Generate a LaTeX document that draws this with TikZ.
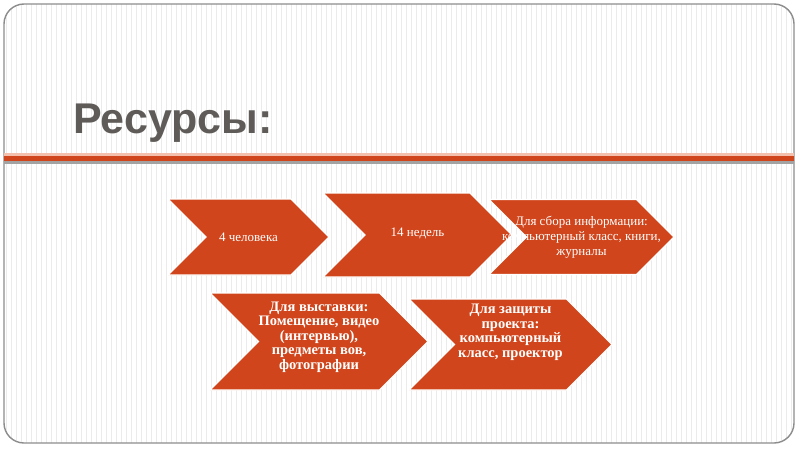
\documentclass[tikz,border=0pt]{standalone}
\usepackage{fontspec}
\setmainfont{Liberation Serif}
\newfontfamily\headfont{Liberation Sans}
\usetikzlibrary{shapes.symbols,positioning}
\definecolor{Brick}{HTML}{D0451B}
\definecolor{Blush}{HTML}{F2C0AC}
\definecolor{Slate}{HTML}{5F5B59}
\definecolor{Frame}{HTML}{8C8C8C}
\definecolor{Stripe}{HTML}{EBEBEB}
\newcommand{\liftlines}[2]{\raisebox{#1}[\height][\depth]{\begin{tabular}{@{}c@{}}#2\end{tabular}}}

\begin{document}
\begin{tikzpicture}[
  x=1pt,y=-1pt,
  chev/.style={
    signal,signal from=west,signal to=east,signal pointer angle=90,
    fill=Brick,draw=white,line width=1.2pt,text=white,align=center,
    inner sep=0pt
  },
  small/.style={font=\fontsize{13}{15}\selectfont},
  big/.style={font=\bfseries\fontsize{14.5}{14.5}\selectfont}
]
  \useasboundingbox (0,0) rectangle (800,450);
  % slide background
  \begin{scope}
    \clip[rounded corners=20pt] (4,4) rectangle (794,443);
    \fill[white] (4,4) rectangle (794,443);
    \foreach \x in {6,11,...,794}
      \draw[Stripe,line width=0.8pt] (\x,4) -- (\x,443);
  \end{scope}
  \draw[Frame,line width=1.4pt,rounded corners=20pt] (4,4) rectangle (794,443);

  \node[anchor=base west,text=Slate,font=\headfont\bfseries\fontsize{43}{43}\selectfont,inner sep=0pt]
    (title) at (73,133) {Ресурсы:};

  % rule under the title
  \fill[Blush] (4,153) rectangle (794,156);
  \fill[Brick] (4,156) rectangle (794,161);
  \fill[Frame!80] (4,161) rectangle (794,164);

  % first row
  \node[chev,small,minimum width=161pt,minimum height=76pt] (people) at (248.5,237) {4 человека};
  \node[chev,small,minimum width=189pt,minimum height=84pt] (weeks) at (417.5,235) {\liftlines{2pt}{14 недель}};
  \node[chev,small,minimum width=185pt,minimum height=75pt] (info) at (581.5,237)
    {\makebox[100pt]{\begin{tabular}{@{}c@{}}Для сбора информации:\\компьютерный класс, книги,\\журналы\end{tabular}}};

  % second row
  \node[chev,big,minimum width=218pt,minimum height=97pt] (expo) at (319,341.5)
    {\liftlines{4pt}{Для выставки:\\Помещение, видео\\(интервью),\\предметы вов,\\фотографии}};
  \node[chev,big,minimum width=203pt,minimum height=91pt] (defence) at (510.5,344.5)
    {\liftlines{12pt}{Для защиты\\проекта:\\компьютерный\\класс, проектор}};
\end{tikzpicture}
\end{document}
